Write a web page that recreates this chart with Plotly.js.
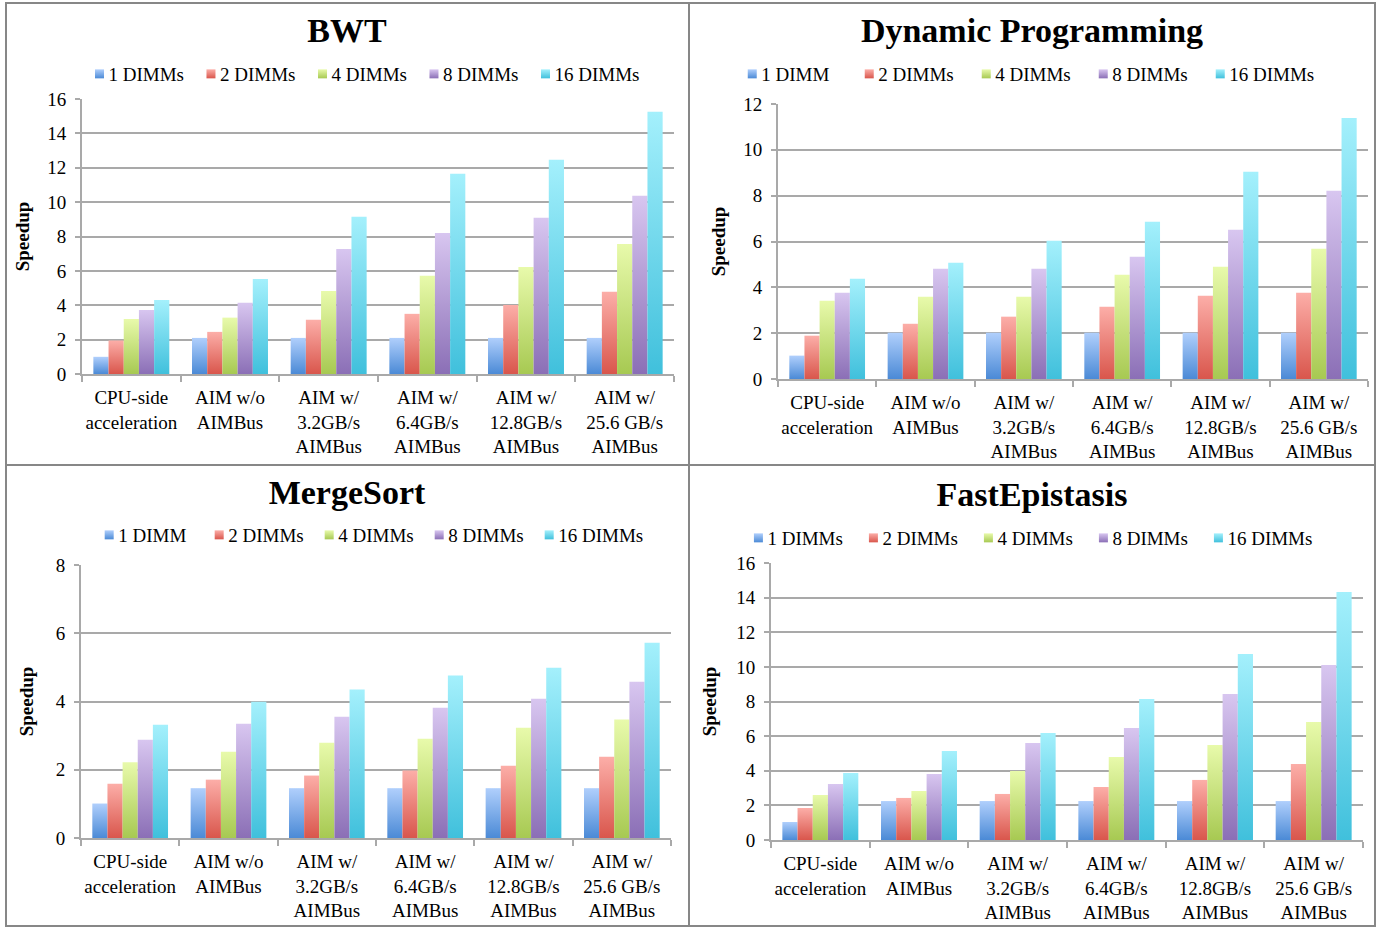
<!DOCTYPE html>
<html>
<head>
<meta charset="utf-8">
<script src="https://cdn.plot.ly/plotly-3.0.1.min.js"></script>
<style>
  html, body { margin: 0; padding: 0; background: #ffffff; }
  body { width: 1387px; height: 928px; position: relative; overflow: hidden; }
  .panel { position: absolute; }
  .rule { position: absolute; background: #878787; }
</style>
</head>
<body>
<!-- vertical gradients shared by every bar and legend swatch -->
<svg width="0" height="0" style="position:absolute">
  <defs>
    <linearGradient id="grad0" x1="0" y1="0" x2="0" y2="1">
      <stop offset="0" stop-color="#b0cffc"/><stop offset="1" stop-color="#4b8ad6"/>
    </linearGradient>
    <linearGradient id="grad1" x1="0" y1="0" x2="0" y2="1">
      <stop offset="0" stop-color="#fcaea8"/><stop offset="1" stop-color="#d9564c"/>
    </linearGradient>
    <linearGradient id="grad2" x1="0" y1="0" x2="0" y2="1">
      <stop offset="0" stop-color="#e8faab"/><stop offset="1" stop-color="#a7c952"/>
    </linearGradient>
    <linearGradient id="grad3" x1="0" y1="0" x2="0" y2="1">
      <stop offset="0" stop-color="#d8c6f0"/><stop offset="1" stop-color="#8b6fb6"/>
    </linearGradient>
    <linearGradient id="grad4" x1="0" y1="0" x2="0" y2="1">
      <stop offset="0" stop-color="#a4f0fc"/><stop offset="1" stop-color="#40c0dc"/>
    </linearGradient>
  </defs>
</svg>

<div id="p1" class="panel" style="left:5px;top:3px;width:684px;height:462px"></div>
<div id="p2" class="panel" style="left:689px;top:3px;width:686px;height:462px"></div>
<div id="p3" class="panel" style="left:5px;top:465px;width:684px;height:462px"></div>
<div id="p4" class="panel" style="left:689px;top:465px;width:686px;height:462px"></div>

<div class="rule" style="left:5px;top:2px;width:1371px;height:2px"></div>
<div class="rule" style="left:5px;top:925px;width:1371px;height:2px"></div>
<div class="rule" style="left:5px;top:2px;width:2px;height:925px"></div>
<div class="rule" style="left:1374px;top:2px;width:2px;height:925px"></div>
<div class="rule" style="left:688px;top:2px;width:2px;height:925px"></div>
<div class="rule" style="left:5px;top:464px;width:1371px;height:2px"></div>

<script>
// Configurations on the x axis
const categories = [
  'CPU-side<br>acceleration',
  'AIM w/o<br>AIMBus',
  'AIM w/<br>3.2GB/s<br>AIMBus',
  'AIM w/<br>6.4GB/s<br>AIMBus',
  'AIM w/<br>12.8GB/s<br>AIMBus',
  'AIM w/<br>25.6 GB/s<br>AIMBus'
];

const namesPlural = ['1 DIMMs', '2 DIMMs', '4 DIMMs', '8 DIMMs', '16 DIMMs'];
const namesSingle = ['1 DIMM', '2 DIMMs', '4 DIMMs', '8 DIMMs', '16 DIMMs'];

// BWT speedup
const bwt1  = [1.00, 2.10, 2.10, 2.10, 2.10, 2.10];
const bwt2  = [1.95, 2.45, 3.15, 3.50, 4.02, 4.78];
const bwt4  = [3.20, 3.28, 4.83, 5.71, 6.23, 7.57];
const bwt8  = [3.73, 4.14, 7.28, 8.21, 9.09, 10.37];
const bwt16 = [4.31, 5.53, 9.15, 11.65, 12.47, 15.26];

// Dynamic Programming speedup
const dp1  = [1.02, 2.02, 2.02, 2.02, 2.02, 2.02];
const dp2  = [1.89, 2.41, 2.72, 3.15, 3.63, 3.76];
const dp4  = [3.41, 3.59, 3.59, 4.55, 4.90, 5.68];
const dp8  = [3.76, 4.81, 4.81, 5.33, 6.51, 8.21];
const dp16 = [4.37, 5.07, 6.03, 6.86, 9.04, 11.39];

// MergeSort speedup
const ms1  = [1.01, 1.46, 1.46, 1.46, 1.46, 1.46];
const ms2  = [1.59, 1.71, 1.83, 1.98, 2.12, 2.38];
const ms4  = [2.22, 2.53, 2.79, 2.91, 3.23, 3.47];
const ms8  = [2.88, 3.35, 3.55, 3.82, 4.08, 4.58];
const ms16 = [3.32, 3.99, 4.35, 4.76, 4.99, 5.72];

// FastEpistasis speedup
const fe1  = [1.04, 2.25, 2.25, 2.25, 2.25, 2.25];
const fe2  = [1.85, 2.43, 2.66, 3.06, 3.47, 4.39];
const fe4  = [2.60, 2.83, 3.99, 4.79, 5.49, 6.82];
const fe8  = [3.23, 3.81, 5.60, 6.47, 8.43, 10.11];
const fe16 = [3.87, 5.14, 6.18, 8.14, 10.74, 14.32];

const baseColors = ['#7eaee9', '#ec8079', '#c7e27e', '#b29ad3', '#72d8ec'];
const SERIF = '"Liberation Serif", "Times New Roman", serif';
const GRID = '#a9a9a9';

function buildPanel(divId, opts) {
  const traces = opts.series.map((vals, i) => ({
    type: 'bar',
    name: opts.names[i],
    x: categories,
    y: vals,
    marker: { color: baseColors[i], line: { width: 0 } },
    hoverinfo: 'skip'
  }));

  const layout = {
    width: opts.w, height: 462,
    margin: opts.margin,
    paper_bgcolor: 'rgba(0,0,0,0)',
    plot_bgcolor: 'rgba(0,0,0,0)',
    barmode: 'group',
    bargap: 0.23,
    bargroupgap: 0,
    font: { family: SERIF, size: 19, color: '#000' },
    title: {
      text: opts.title,
      font: { family: SERIF, size: 34, color: '#000', weight: 'bold' },
      xref: 'container', x: 0.5, xanchor: 'center',
      yref: 'container', y: 1 - opts.titleY / 462, yanchor: 'middle'
    },
    showlegend: true,
    legend: {
      orientation: 'h',
      xref: 'container', x: opts.legendX, xanchor: 'left',
      yref: 'container', y: 1 - opts.legendY / 462, yanchor: 'middle',
      entrywidth: opts.entry, entrywidthmode: 'pixels',
      font: { family: SERIF, size: 19, color: '#000' },
      bgcolor: 'rgba(0,0,0,0)', borderwidth: 0,
      traceorder: 'normal'
    },
    xaxis: {
      type: 'category',
      showline: true, linecolor: GRID, linewidth: 2,
      ticks: 'outside', tickson: 'boundaries', ticklen: 6, tickwidth: 2, tickcolor: GRID,
      showgrid: false, zeroline: false,
      tickangle: 0,
      tickfont: { family: SERIF, size: 19, color: '#000' },
      ticklabelstandoff: 5,
      automargin: false
    },
    yaxis: {
      range: [0, opts.ymax],
      dtick: 2,
      showline: true, linecolor: GRID, linewidth: 2,
      ticks: 'outside', ticklen: 5, tickwidth: 2, tickcolor: GRID,
      showgrid: true, gridcolor: GRID, gridwidth: 2,
      zeroline: false,
      tickfont: { family: SERIF, size: 19, color: '#000' },
      ticklabelstandoff: 5,
      title: {
        text: 'Speedup',
        font: { family: SERIF, size: 19, color: '#000', weight: 'bold' },
        standoff: opts.yStandoff
      },
      automargin: false
    }
  };

  return Plotly.newPlot(divId, traces, layout, { staticPlot: true, displayModeBar: false })
    .then(gd => paintGradients(gd));
}

// Swap the flat bar fills for the vertical gradients and tighten the legend swatches
function paintGradients(gd) {
  const barTraces = gd.querySelectorAll('.barlayer .trace.bars');
  barTraces.forEach((t, i) => {
    t.querySelectorAll('.point path').forEach(p => {
      p.style.fill = 'url(#grad' + i + ')';
    });
  });
  gd.querySelectorAll('.legend .scrollbox').forEach(s => s.removeAttribute('clip-path'));
  const items = gd.querySelectorAll('.legend .traces');
  items.forEach((it, i) => {
    it.querySelectorAll('.legendpoints path').forEach(p => {
      p.setAttribute('d', 'M4.5,4.5H-4.5V-4.5H4.5Z');
      p.setAttribute('transform', 'translate(31,0)');
      p.style.fill = 'url(#grad' + i + ')';
      p.style.stroke = 'none';
    });
  });
}

buildPanel('p1', {
  title: 'BWT', names: namesPlural,
  series: [bwt1, bwt2, bwt4, bwt8, bwt16], ymax: 16,
  w: 684, margin: { l: 77, r: 15, t: 96, b: 91 },
  titleY: 27, legendY: 71, legendX: 0.0928, entry: 66.5, yStandoff: 13
});
buildPanel('p2', {
  title: 'Dynamic Programming', names: namesSingle,
  series: [dp1, dp2, dp4, dp8, dp16], ymax: 12,
  w: 686, margin: { l: 89, r: 7, t: 101, b: 86 },
  titleY: 27, legendY: 71, legendX: 0.047, entry: 72, yStandoff: 13
});
buildPanel('p3', {
  title: 'MergeSort', names: namesSingle,
  series: [ms1, ms2, ms4, ms8, ms16], ymax: 8,
  w: 684, margin: { l: 76, r: 18, t: 100, b: 89 },
  titleY: 27, legendY: 70, legendX: 0.107, entry: 65, yStandoff: 17
});
buildPanel('p4', {
  title: 'FastEpistasis', names: namesPlural,
  series: [fe1, fe2, fe4, fe8, fe16], ymax: 16,
  w: 686, margin: { l: 82, r: 12, t: 98, b: 87 },
  titleY: 29, legendY: 73, legendX: 0.056, entry: 70, yStandoff: 15
});
</script>
</body>
</html>
